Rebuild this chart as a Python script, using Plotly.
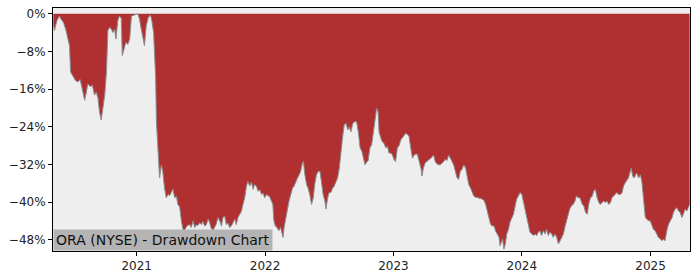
import plotly.graph_objects as go

dates = [
"2020-05-09","2020-05-12","2020-05-19","2020-05-26","2020-05-31","2020-06-07","2020-06-13","2020-06-19","2020-06-24","2020-06-27",
"2020-07-03","2020-07-11","2020-07-18","2020-07-24","2020-07-29","2020-08-06","2020-08-11","2020-08-15","2020-08-22","2020-08-28",
"2020-09-03","2020-09-08","2020-09-13","2020-09-17","2020-09-22","2020-09-27","2020-10-02","2020-10-07","2020-10-11","2020-10-16",
"2020-10-21","2020-10-25","2020-10-30","2020-11-03","2020-11-08","2020-11-13","2020-11-18","2020-11-21","2020-11-25","2020-12-01",
"2020-12-07","2020-12-12","2020-12-17","2020-12-23","2020-12-29",
"2021-01-04","2021-01-09","2021-01-14","2021-01-20","2021-01-23","2021-01-28","2021-02-03","2021-02-09","2021-02-13","2021-02-18",
"2021-02-21","2021-02-24","2021-02-26","2021-03-02","2021-03-07","2021-03-12","2021-03-16","2021-03-21","2021-03-26","2021-03-31",
"2021-04-05","2021-04-09","2021-04-14","2021-04-19","2021-04-24","2021-04-28","2021-05-03","2021-05-08","2021-05-12","2021-05-15",
"2021-05-19","2021-05-25","2021-05-31","2021-06-05","2021-06-10","2021-06-15","2021-06-20","2021-06-24","2021-06-29","2021-07-04",
"2021-07-08","2021-07-13","2021-07-18","2021-07-23","2021-07-27","2021-08-01","2021-08-06","2021-08-11","2021-08-15","2021-08-20",
"2021-08-25","2021-08-30","2021-09-03","2021-09-08","2021-09-13","2021-09-18","2021-09-22","2021-09-27","2021-10-02","2021-10-07",
"2021-10-11","2021-10-16","2021-10-21","2021-10-26","2021-10-30","2021-11-04","2021-11-09","2021-11-13","2021-11-18","2021-11-23",
"2021-11-28","2021-12-02","2021-12-07","2021-12-12","2021-12-17","2021-12-22","2021-12-26","2021-12-31",
"2022-01-05","2022-01-09","2022-01-14","2022-01-19","2022-01-23","2022-01-26","2022-01-30","2022-02-04","2022-02-09","2022-02-14",
"2022-02-18","2022-02-21","2022-02-24","2022-03-01","2022-03-06","2022-03-10","2022-03-15","2022-03-20","2022-03-24","2022-03-29",
"2022-04-03","2022-04-08","2022-04-12","2022-04-17","2022-04-20","2022-04-24","2022-04-29","2022-05-03","2022-05-08","2022-05-13",
"2022-05-18","2022-05-22","2022-05-27","2022-06-01","2022-06-06","2022-06-10","2022-06-15","2022-06-20","2022-06-23","2022-06-28",
"2022-07-02","2022-07-07","2022-07-12","2022-07-16","2022-07-21","2022-07-26","2022-07-31","2022-08-05","2022-08-09","2022-08-14",
"2022-08-19","2022-08-24","2022-08-28","2022-09-02","2022-09-07","2022-09-11","2022-09-18","2022-09-23","2022-09-28","2022-10-03",
"2022-10-07","2022-10-12","2022-10-17","2022-10-21","2022-10-26","2022-10-31","2022-11-05","2022-11-10","2022-11-14","2022-11-18",
"2022-11-21","2022-11-26","2022-11-30","2022-12-05","2022-12-10","2022-12-15","2022-12-19","2022-12-24","2022-12-29",
"2023-01-03","2023-01-07","2023-01-12","2023-01-17","2023-01-22","2023-01-26","2023-01-31","2023-02-05","2023-02-10","2023-02-14",
"2023-02-19","2023-02-24","2023-03-01","2023-03-06","2023-03-10","2023-03-15","2023-03-20","2023-03-23","2023-03-27","2023-04-01",
"2023-04-06","2023-04-11","2023-04-16","2023-04-20","2023-04-25","2023-04-30","2023-05-05","2023-05-09","2023-05-14","2023-05-19",
"2023-05-24","2023-05-28","2023-06-02","2023-06-07","2023-06-12","2023-06-17","2023-06-21","2023-06-26","2023-07-01","2023-07-05",
"2023-07-10","2023-07-15","2023-07-20","2023-07-25","2023-07-29","2023-08-03","2023-08-08","2023-08-13","2023-08-17","2023-08-22",
"2023-08-27","2023-09-01","2023-09-05","2023-09-10","2023-09-15","2023-09-20","2023-09-25","2023-09-29","2023-10-04","2023-10-09",
"2023-10-14","2023-10-18","2023-10-23","2023-10-28","2023-10-31","2023-11-04","2023-11-07","2023-11-11","2023-11-15","2023-11-19",
"2023-11-24","2023-11-28","2023-12-03","2023-12-08","2023-12-13","2023-12-17","2023-12-22","2023-12-27",
"2024-01-01","2024-01-05","2024-01-10","2024-01-15","2024-01-20","2024-01-24","2024-01-29","2024-02-03","2024-02-07","2024-02-12",
"2024-02-17","2024-02-21","2024-02-26","2024-03-02","2024-03-07","2024-03-11","2024-03-16","2024-03-21","2024-03-26","2024-03-30",
"2024-04-04","2024-04-09","2024-04-14","2024-04-18","2024-04-23","2024-04-28","2024-05-02","2024-05-07","2024-05-12","2024-05-16",
"2024-05-21","2024-05-26","2024-05-31","2024-06-04","2024-06-09","2024-06-14","2024-06-21","2024-06-25","2024-06-30","2024-07-05",
"2024-07-09","2024-07-14","2024-07-19","2024-07-23","2024-07-28","2024-08-02","2024-08-07","2024-08-11","2024-08-16","2024-08-21",
"2024-08-25","2024-08-30","2024-09-04","2024-09-09","2024-09-13","2024-09-18","2024-09-23","2024-09-27","2024-10-02","2024-10-07",
"2024-10-12","2024-10-16","2024-10-21","2024-10-26","2024-10-30","2024-11-04","2024-11-07","2024-11-11","2024-11-16","2024-11-19",
"2024-11-23","2024-11-28","2024-12-03","2024-12-07","2024-12-12","2024-12-17","2024-12-22","2024-12-26","2024-12-31",
"2025-01-05","2025-01-09","2025-01-14","2025-01-19","2025-01-23","2025-01-28","2025-02-02","2025-02-07","2025-02-11","2025-02-16",
"2025-02-21","2025-02-26","2025-03-03","2025-03-07","2025-03-12","2025-03-17","2025-03-21","2025-03-26","2025-03-31","2025-04-04",
"2025-04-09","2025-04-14","2025-04-19","2025-04-22",
]

drawdown_pct = [
-2.2,-3.6,-1.5,-0.5,-1.2,-1.9,-3.3,-5.0,-6.8,-12.4,
-13.1,-14.2,-14.5,-14.0,-15.6,-18.4,-16.6,-14.9,-15.5,-15.2,
-17.3,-16.6,-18.0,-20.8,-22.6,-20.1,-17.3,-12.4,-3.6,-2.9,
-3.3,-4.0,-3.3,-5.4,-1.5,-0.5,-1.0,-8.9,-7.5,-6.1,
-6.5,-5.4,-0.5,-0.4,-0.2,
0.0,-1.2,-3.3,-5.4,-6.8,-2.6,-0.8,-0.3,-1.5,-4.0,
-8.9,-14.0,-22.9,-28.5,-34.9,-32.1,-33.5,-37.0,-39.1,-38.4,
-38.6,-38.0,-37.3,-39.1,-38.8,-40.5,-41.0,-44.0,-45.4,-46.8,
-45.7,-45.0,-44.8,-45.4,-44.0,-45.4,-44.8,-45.0,-44.4,-44.8,
-44.1,-45.1,-44.8,-43.6,-44.3,-45.6,-46.0,-45.4,-44.7,-43.3,
-44.0,-45.1,-43.3,-43.0,-44.8,-44.5,-45.4,-45.1,-44.4,-43.6,
-44.8,-43.3,-42.6,-41.9,-40.5,-39.1,-36.6,-35.6,-36.6,-35.8,
-37.3,-36.3,-36.6,-37.7,-37.4,-38.4,-38.1,-39.1,
-38.4,-38.7,-38.9,-39.8,-40.5,-44.0,-45.1,-45.4,-46.1,-45.4,
-46.8,-47.5,-45.4,-43.3,-41.9,-39.8,-38.4,-37.0,-36.7,-35.6,
-34.9,-34.2,-33.5,-31.7,-31.4,-34.2,-36.3,-37.0,-38.4,-40.5,
-39.1,-36.3,-34.2,-33.5,-33.5,-35.6,-38.4,-39.8,-41.5,-39.1,
-38.0,-38.0,-37.0,-36.7,-35.6,-34.9,-32.8,-28.5,-26.4,-23.6,
-23.3,-24.7,-24.0,-25.1,-23.4,-23.0,-22.9,-25.1,-28.5,-29.2,
-30.3,-32.1,-31.5,-31.2,-28.5,-27.8,-25.1,-21.5,-20.1,-20.8,
-25.1,-26.4,-27.2,-27.5,-28.5,-28.2,-29.6,-29.6,-30.0,
-31.1,-31.4,-28.5,-28.0,-26.8,-26.4,-25.7,-25.4,-25.7,-26.0,
-28.5,-30.7,-30.0,-29.8,-29.9,-31.5,-32.8,-34.5,-32.8,-31.7,
-31.4,-31.2,-30.9,-30.5,-30.0,-31.5,-31.9,-32.1,-32.1,-31.8,
-31.4,-30.9,-31.2,-30.0,-30.7,-31.4,-32.1,-33.5,-34.9,-35.2,
-33.5,-33.0,-32.1,-32.8,-34.2,-36.3,-37.0,-38.0,-38.7,-39.0,
-39.0,-39.2,-39.2,-39.4,-39.6,-40.5,-41.9,-43.3,-44.7,-45.1,
-45.1,-46.1,-46.8,-47.5,-49.3,-48.5,-47.8,-50.0,-48.9,-46.8,
-45.8,-44.3,-43.3,-42.6,-40.8,-39.4,-38.7,-38.0,
-38.4,-39.8,-41.9,-43.7,-45.1,-46.4,-46.8,-47.1,-46.8,-47.1,
-46.4,-46.1,-47.1,-46.1,-46.8,-45.8,-47.1,-46.4,-46.8,-47.5,
-46.8,-47.5,-48.9,-48.2,-47.5,-46.8,-45.4,-44.0,-42.6,-41.5,
-40.8,-40.5,-39.8,-38.7,-39.1,-39.1,-40.5,-40.8,-42.2,-42.6,
-40.5,-39.1,-38.8,-37.7,-37.3,-39.1,-40.1,-40.5,-40.1,-39.8,
-40.1,-39.8,-40.5,-40.1,-39.1,-38.7,-38.4,-38.0,-38.4,-38.4,
-38.0,-36.6,-35.9,-35.2,-34.9,-33.5,-32.8,-34.5,-34.9,-34.2,
-33.9,-34.9,-34.2,-35.6,-39.1,-43.3,-43.7,-44.0,-44.0,
-45.1,-45.8,-46.1,-46.8,-47.5,-47.8,-48.2,-47.9,-48.2,-46.1,
-44.7,-44.0,-43.3,-42.2,-41.5,-41.2,-41.9,-42.2,-43.3,-42.6,
-41.5,-41.9,-41.0,-40.5,
]

y_tick_vals = [0, -8, -16, -24, -32, -40, -48]
y_tick_text = ["0%", "\u22128%", "\u221216%", "\u221224%", "\u221232%", "\u221240%", "\u221248%"]
x_tick_vals = ["2021-01-01", "2022-01-01", "2023-01-01", "2024-01-01", "2025-01-01"]
x_tick_text = ["2021", "2022", "2023", "2024", "2025"]
title_text = "ORA (NYSE) - Drawdown Chart"

fig = go.Figure()
fig.add_trace(go.Scatter(
    x=dates, y=drawdown_pct, mode="lines", fill="tozeroy",
    fillcolor="#b03032", line=dict(color="#8c8c8c", width=1),
    hoverinfo="skip", showlegend=False,
))

fig.update_layout(
    width=700, height=280,
    margin=dict(l=53, r=10, t=7, b=28),
    paper_bgcolor="white", plot_bgcolor="#eeeeee",
    font=dict(family="DejaVu Sans", size=12, color="#222222"),
    showlegend=False,
    annotations=[dict(
        text=title_text, xref="paper", yref="paper", x=0, y=0,
        xanchor="left", yanchor="bottom", showarrow=False,
        font=dict(family="DejaVu Sans", size=14, color="#111111"),
        bgcolor="#b4b4b4", borderpad=2,
    )],
)
fig.update_xaxes(
    type="date", range=["2020-05-08", "2025-04-23"],
    tickvals=x_tick_vals, ticktext=x_tick_text,
    ticks="outside", ticklen=4, tickcolor="black",
    showgrid=False, zeroline=False,
    showline=True, linecolor="black", linewidth=1, mirror=True,
)
fig.update_yaxes(
    range=[-50.4, 1.2],
    tickvals=y_tick_vals, ticktext=y_tick_text,
    ticks="outside", ticklen=4, tickcolor="black",
    showgrid=False, zeroline=False,
    showline=True, linecolor="black", linewidth=1, mirror=True,
)

fig.write_html("out.html")
